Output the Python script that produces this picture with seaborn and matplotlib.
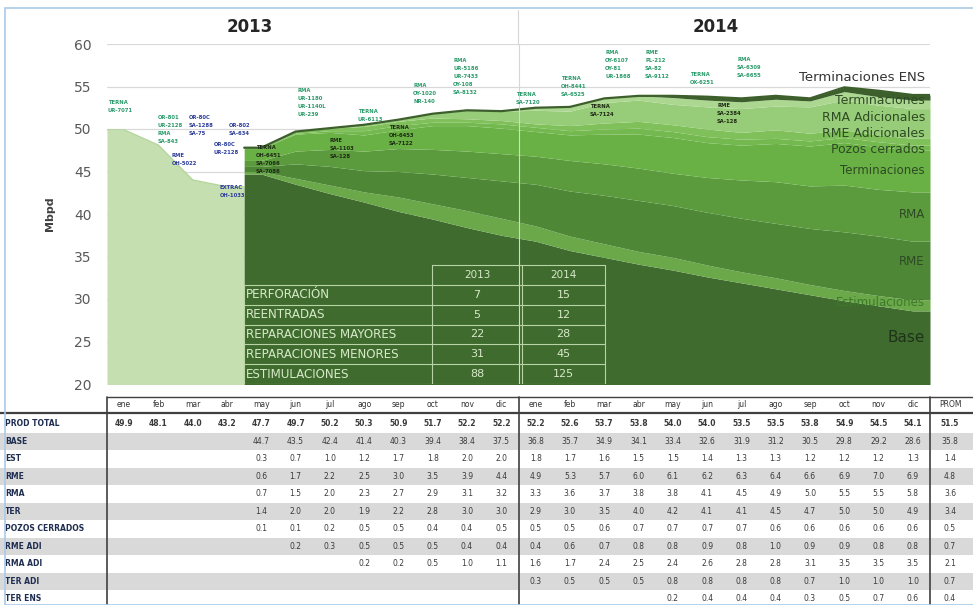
import numpy as np
import pandas as pd
import matplotlib
matplotlib.use("Agg")
import matplotlib.pyplot as plt
from matplotlib.patches import Rectangle
from matplotlib.lines import Line2D
import seaborn as sns

# ---------------- data ----------------
nan = np.nan
months = ["ene", "feb", "mar", "abr", "may", "jun", "jul", "ago", "sep", "oct", "nov", "dic"]
month_labels = months + months
years = ["2013", "2014"]

prod_total = [49.9, 48.1, 44.0, 43.2, 47.7, 49.7, 50.2, 50.3, 50.9, 51.7, 52.2, 52.2,
              52.2, 52.6, 53.7, 53.8, 54.0, 54.0, 53.5, 53.5, 53.8, 54.9, 54.5, 54.1]
base = [nan] * 4 + [44.7, 43.5, 42.4, 41.4, 40.3, 39.4, 38.4, 37.5,
                    36.8, 35.7, 34.9, 34.1, 33.4, 32.6, 31.9, 31.2, 30.5, 29.8, 29.2, 28.6]
est = [nan] * 4 + [0.3, 0.7, 1.0, 1.2, 1.7, 1.8, 2.0, 2.0,
                   1.8, 1.7, 1.6, 1.5, 1.5, 1.4, 1.3, 1.3, 1.2, 1.2, 1.2, 1.3]
rme = [nan] * 4 + [0.6, 1.7, 2.2, 2.5, 3.0, 3.5, 3.9, 4.4,
                   4.9, 5.3, 5.7, 6.0, 6.1, 6.2, 6.3, 6.4, 6.6, 6.9, 7.0, 6.9]
rma = [nan] * 4 + [0.7, 1.5, 2.0, 2.3, 2.7, 2.9, 3.1, 3.2,
                   3.3, 3.6, 3.7, 3.8, 3.8, 4.1, 4.5, 4.9, 5.0, 5.5, 5.5, 5.8]
ter = [nan] * 4 + [1.4, 2.0, 2.0, 1.9, 2.2, 2.8, 3.0, 3.0,
                   2.9, 3.0, 3.5, 4.0, 4.2, 4.1, 4.1, 4.5, 4.7, 5.0, 5.0, 4.9]
pozos = [nan] * 4 + [0.1, 0.1, 0.2, 0.5, 0.5, 0.4, 0.4, 0.5,
                     0.5, 0.5, 0.6, 0.7, 0.7, 0.7, 0.7, 0.6, 0.6, 0.6, 0.6, 0.6]
rme_adi = [nan] * 5 + [0.2, 0.3, 0.5, 0.5, 0.5, 0.4, 0.4,
                       0.4, 0.6, 0.7, 0.8, 0.8, 0.9, 0.8, 1.0, 0.9, 0.9, 0.8, 0.8]
rma_adi = [nan] * 7 + [0.2, 0.2, 0.5, 1.0, 1.1,
                       1.6, 1.7, 2.4, 2.5, 2.4, 2.6, 2.8, 2.8, 3.1, 3.5, 3.5, 3.5]
ter_adi = [nan] * 12 + [0.3, 0.5, 0.5, 0.5, 0.8, 0.8, 0.8, 0.8, 0.7, 1.0, 1.0, 1.0]
ter_ens = [nan] * 16 + [0.2, 0.4, 0.4, 0.4, 0.3, 0.5, 0.7, 0.6]

row_labels = ["PROD TOTAL", "BASE", "EST", "RME", "RMA", "TER", "POZOS CERRADOS",
              "RME ADI", "RMA ADI", "TER ADI", "TER ENS"]
prom = [51.5, 35.8, 1.4, 4.8, 3.6, 3.4, 0.5, 0.7, 2.1, 0.7, 0.4]

activities = ["PERFORACIÓN", "REENTRADAS", "REPARACIONES MAYORES",
              "REPARACIONES MENORES", "ESTIMULACIONES"]
count_2013 = [7, 5, 22, 31, 88]
count_2014 = [15, 12, 28, 45, 125]

layer_names = ["Base", "Estimulaciones", "RME", "RMA", "Terminaciones", "Pozos cerrados",
               "RME Adicionales", "RMA Adicionales", "Terminaciones", "Terminaciones ENS"]
layer_values = [base, est, rme, rma, ter, pozos, rme_adi, rma_adi, ter_adi, ter_ens]

# ---------------- style ----------------
sns.set_theme(style="white")
plt.rcParams["font.family"] = ["DejaVu Sans"]

W, H = 973, 605
fig = plt.figure(figsize=(W / 100, H / 100), dpi=100)
fig.patch.set_facecolor("white")

def fx(px):
    return px / W

def fy(py):
    return 1 - py / H

# chart axes
X0, X1, Y0, Y1 = 107, 930, 44, 384
ax = fig.add_axes([fx(X0), fy(Y1), fx(X1) - fx(X0), (Y1 - Y0) / H])
ax.set_xlim(-0.5, 23.5)
ax.set_ylim(20, 60)

layer_colors = ["#3f6b2e", "#6aa849", "#4e8836", "#5b9b3e", "#69b145", "#73b94f",
                "#7fc05a", "#97cc78", "#acd791", "#3c5f2c"]

x = np.arange(24)

# Jan-Apr 2013: only total production
tot = np.array(prod_total, dtype=float)
xp = np.r_[-0.5, x[:4], 3.5]
yp = np.r_[tot[0], tot[:4], tot[3]]
ax.fill_between(xp, 0, yp, color="#c5dfb1", lw=0, zorder=1)

# May 2013 onward: stacked contributions
df = pd.DataFrame({n + str(i): v for i, (n, v) in enumerate(zip(layer_names, layer_values))})
df = df.iloc[4:].fillna(0.0)
xs = np.r_[3.5, x[4:], 23.5]
lower = np.zeros(len(xs))
for col, c in zip(df.columns, layer_colors):
    v = df[col].to_numpy()
    v = np.r_[v[0], v, v[-1]]
    upper = lower + v
    ax.fill_between(xs, lower, upper, color=c, lw=0, zorder=2)
    lower = upper

sns.lineplot(x=xs, y=lower, ax=ax, color="#3c5f2c", lw=1.6, zorder=3)
sns.lineplot(x=xp, y=yp, ax=ax, color="#b4d59c", lw=1.0, zorder=3)

ax.set_yticks(range(20, 61, 5))
ax.grid(axis="y", color="#d9d9d9", lw=0.9)
ax.set_axisbelow(True)
for s in ax.spines.values():
    s.set_visible(False)
ax.set_xticks(np.arange(-0.5, 24, 1))
ax.set_xticklabels([])
ax.tick_params(axis="x", length=3, color="#c8c8c8", direction="out")
ax.tick_params(axis="y", length=0, labelsize=10, labelcolor="#595959", pad=11)
ax.set_ylabel("Mbpd", fontsize=8, fontweight="bold", color="#404040", labelpad=14)

# year divider
ax.axvline(11.5, color="#d6d6d6", lw=0.8, zorder=4)
fig.add_artist(Line2D([fx(518), fx(518)], [fy(10), fy(Y0)], color="#d6d6d6", lw=0.8))

# layer names on the right
right_labels = [
    ("Terminaciones ENS", 56.1, "#333333", 9.5),
    ("Terminaciones", 53.3, "#2e4a24", 9),
    ("RMA Adicionales", 51.4, "#2e4a24", 9),
    ("RME Adicionales", 49.5, "#2e4a24", 9),
    ("Pozos cerrados", 47.6, "#2e4a24", 9),
    ("Terminaciones", 45.1, "#2e4a24", 8.5),
    ("RMA", 40.0, "#2e4a24", 8.5),
    ("RME", 34.4, "#2e4a24", 8.5),
    ("Estimulaciones", 29.6, "#3f7a2c", 8.5),
    ("Base", 25.5, "#1f3318", 11),
]
for txt, yv, c, fs in right_labels:
    ax.text(23.35, yv, txt, ha="right", va="center", fontsize=fs, color=c, zorder=6)

# activity table over the base area
tl, tc1, tc2, tr = 3.5, 8.98, 11.6, 14.02
ttop, thead = 34.0, 31.65
rh = (thead - 20.0) / len(activities)
tcol = "#d7e9c8"
lc = "#b9d4a4"
ax.plot([tc1, tr], [ttop, ttop], color=lc, lw=0.8, zorder=6)
for xv in (tc1, tc2, tr):
    ax.plot([xv, xv], [20.0, ttop], color=lc, lw=0.8, zorder=6)
ax.plot([tl, tl], [20.0, thead], color=lc, lw=0.8, zorder=6)
ax.plot([tl, tr], [thead, thead], color=lc, lw=0.8, zorder=6)
ax.text((tc1 + tc2) / 2, (ttop + thead) / 2, years[0], ha="center", va="center",
        fontsize=7.5, color=tcol, zorder=7)
ax.text((tc2 + tr) / 2, (ttop + thead) / 2, years[1], ha="center", va="center",
        fontsize=7.5, color=tcol, zorder=7)
for i, (name, a, b) in enumerate(zip(activities, count_2013, count_2014)):
    yt = thead - i * rh
    yb = yt - rh
    ax.plot([tl, tr], [yb, yb], color=lc, lw=0.8, zorder=6)
    yc = (yt + yb) / 2
    ax.text(tl + 0.05, yc, name, ha="left", va="center", fontsize=8.6, color=tcol, zorder=7)
    ax.text((tc1 + tc2) / 2, yc, str(a), ha="center", va="center", fontsize=8, color=tcol, zorder=7)
    ax.text((tc2 + tr) / 2, yc, str(b), ha="center", va="center", fontsize=8, color=tcol, zorder=7)

# well interventions noted along the top of the curve
teal, navy, dark = "#2a9a6a", "#2b3c9a", "#1e2a14"
notes = [
    (108, 100, "TERNA\nUR-7071", teal),
    (158, 115, "OR-801\nUR-2128\nRMA\nSA-843", teal),
    (189, 115, "OR-80C\nSA-1288\nSA-75", navy),
    (172, 153, "RME\nOH-5022", navy),
    (214, 142, "OR-80C\nUR-2128", navy),
    (229, 123, "OR-802\nSA-634", navy),
    (220, 185, "EXTRAC\nOH-1033", navy),
    (256, 145, "TERNA\nOH-6451\nSA-7066\nSA-7086", dark),
    (298, 88, "RMA\nUR-1180\nUR-1140L\nUR-239", teal),
    (330, 138, "RME\nSA-1103\nSA-128", dark),
    (358, 109, "TERNA\nUR-6113", teal),
    (389, 125, "TERNA\nOH-6453\nSA-7122", dark),
    (413, 83, "RMA\nOY-1020\nNR-140", teal),
    (453, 58, "RMA\nUR-5186\nUR-7433\nOY-108\nSA-8132", teal),
    (516, 92, "TERNA\nSA-7120", teal),
    (561, 76, "TERNA\nOH-8441\nSA-6525", teal),
    (590, 104, "TERNA\nSA-7124", dark),
    (605, 50, "RMA\nOY-6107\nOY-81\nUR-1868", teal),
    (645, 50, "RME\nPL-212\nSA-82\nSA-9112", teal),
    (690, 72, "TERNA\nOX-6251", teal),
    (737, 57, "RMA\nSA-6309\nSA-6655", teal),
    (717, 103, "RME\nSA-2384\nSA-128", dark),
]
for px, py, txt, c in notes:
    fig.text(fx(px), fy(py), txt, ha="left", va="top", fontsize=3.8, fontweight="bold",
             color=c, linespacing=1.75, zorder=8)

# year titles
fig.text(fx(250), fy(27), years[0], ha="center", va="center", fontsize=12,
         fontweight="bold", color="#262626")
fig.text(fx(716), fy(27), years[1], ha="center", va="center", fontsize=12,
         fontweight="bold", color="#262626")

# ---------------- monthly table ----------------
tab = fig.add_axes([0, 0, 1, (H - 395) / H])
ux = (X1 - X0) / 24.0
tab.set_xlim(-X0 / ux - 0.5, (W - X0) / ux - 0.5)
tab.set_ylim(H, 395)
tab.axis("off")
xa, xb = tab.get_xlim()

series = [prod_total, base, est, rme, rma, ter, pozos, rme_adi, rma_adi, ter_adi, ter_ens]
row0, rstep = 424.0, 17.5
prom_x = (950 - X0) / ux - 0.5
lab_x = (5 - X0) / ux - 0.5

for k, (lab, vals, pv) in enumerate(zip(row_labels, series, prom)):
    yc = row0 + k * rstep
    if k % 2 == 1:
        tab.fill_between([xa, xb], yc - rstep / 2, yc + rstep / 2, color="#d9d9d9", lw=0, zorder=0)
    tab.text(lab_x, yc, lab, ha="left", va="center", fontsize=5.5, fontweight="bold",
             color="#1f2d50")
    fw = "bold" if k == 0 else "normal"
    for i, v in enumerate(vals):
        if not np.isnan(v):
            tab.text(i, yc, f"{v:.1f}", ha="center", va="center", fontsize=5.5,
                     color="#3a3a3a", fontweight=fw)
    tab.text(prom_x, yc, f"{pv:.1f}", ha="center", va="center", fontsize=5.5,
             color="#3a3a3a", fontweight=fw)

for i, m in enumerate(month_labels):
    tab.text(i, 405, m, ha="center", va="center", fontsize=5.5, color="#333333")
tab.text(prom_x, 405, "PROM", ha="center", va="center", fontsize=5.5, color="#333333")

tab.plot([-0.5, xb], [397, 397], color="#404040", lw=1.0)
tab.plot([xa, xb], [413, 413], color="#404040", lw=1.6)
for xv in (-0.5, 11.5, 23.5):
    tab.plot([xv, xv], [397, H], color="#404040", lw=1.2)

# outer frame
fig.add_artist(Rectangle((fx(5), 0), 1, fy(8), transform=fig.transFigure,
                         fill=False, edgecolor="#a9cbe8", lw=1.2))

fig.savefig("out.png", dpi=100, facecolor="white")
